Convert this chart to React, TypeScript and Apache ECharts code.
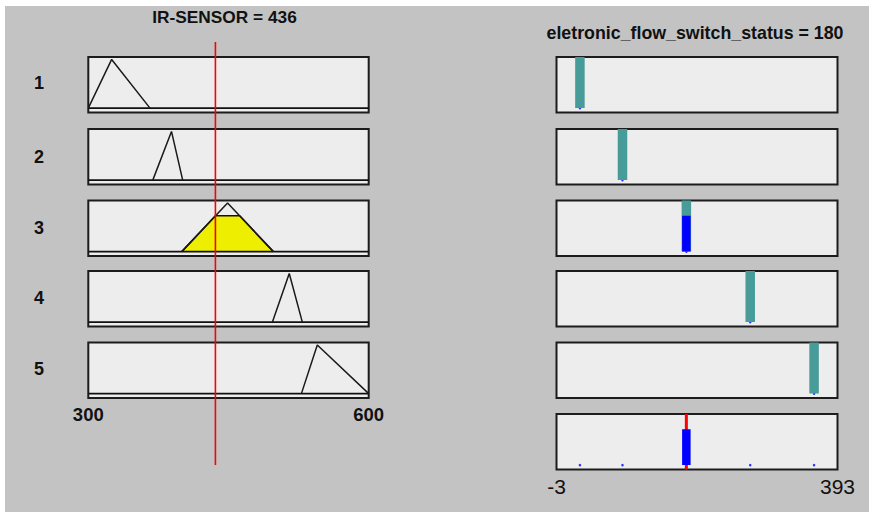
import React, { useEffect, useRef } from 'react';
import * as echarts from 'echarts';

// ---- data ----
const inputName = 'IR-SENSOR';
const inputValue = 436;
const inputRange = [300, 600];
const inputTicks = [300, 600];
// triangular membership functions [a, b, c]
const inputMFs = [
  [300, 325, 366],
  [369, 389, 401],
  [400, 449, 498],
  [497, 515, 529],
  [528, 545, 600],
];
const ruleLabels = ['1', '2', '3', '4', '5'];
const outputName = 'eletronic_flow_switch_status';
const outputRange = [-3, 393];
const outputTicks = [-3, 393];
const outputMFs = [30, 90, 180, 270, 360];
const outputValue = 180;

function trimf(x: number, m: number[]) {
  const [a, b, c] = m;
  if (x <= a || x >= c) return 0;
  if (x <= b) return (x - a) / (b - a);
  return (c - x) / (c - b);
}

const FONT = '"Liberation Sans", Arial, sans-serif';
const BG = '#c3c3c3';
const PANEL = '#ededed';
const BORDER = '#1c1c1c';
const TEAL = '#479b99';
const BLUE = '#0000ff';
const YMIN = -0.09;
const YMAX = 1.05;

export default function App() {
  const ref = useRef<HTMLDivElement>(null);
  useEffect(() => {
    if (!ref.current) return;
    const chart = echarts.init(ref.current, undefined, { renderer: 'svg' });

    const rowTops = [57, 129, 200.5, 271, 342.5];
    const panelH = 55.5;
    const leftX = 88.3, leftW = 280.4;
    const rightX = 556.5, rightW = 281;
    const bottomTop = 414;

    const firing = inputMFs.map((m) => trimf(inputValue, m));

    const grids: any[] = [];
    const xAxes: any[] = [];
    const yAxes: any[] = [];
    const series: any[] = [];

    const gridStyle = { show: true, backgroundColor: PANEL, borderColor: BORDER, borderWidth: 2 };
    const addGrid = (left: number, top: number, width: number, range: number[], ticks: number[] | null, fs: number, margin: number, weight: string) => {
      const idx = grids.length;
      grids.push({ left, top, width, height: panelH, ...gridStyle });
      xAxes.push({
        gridIndex: idx, type: 'value', min: range[0], max: range[1],
        axisLine: { show: false }, axisTick: { show: false }, splitLine: { show: false },
        axisLabel: ticks
          ? { show: true, customValues: ticks, margin, fontSize: fs, fontWeight: weight, color: '#111', fontFamily: FONT, showMinLabel: true, showMaxLabel: true }
          : { show: false },
      });
      yAxes.push({ gridIndex: idx, type: 'value', min: YMIN, max: YMAX, show: false });
      return idx;
    };

    const lineS = (idx: number, data: number[][], color: string, width: number, extra: any = {}) => ({
      type: 'line', xAxisIndex: idx, yAxisIndex: idx, data, symbol: 'none', silent: true,
      lineStyle: { color, width, cap: 'butt' }, ...extra,
    });

    // left input panels
    inputMFs.forEach((m, i) => {
      const idx = addGrid(leftX, rowTops[i], leftW, inputRange, i === inputMFs.length - 1 ? inputTicks : null, 18.5, 7, 'bold');
      series.push(lineS(idx, [[inputRange[0], 0], [inputRange[1], 0]], '#111', 1.7));
      const w = firing[i];
      if (w > 0) {
        const [a, b, c] = m;
        const xl = a + w * (b - a);
        const xr = c - w * (c - b);
        series.push(lineS(idx, [[a, 0], [xl, w], [xr, w], [c, 0]], '#111', 1.5, {
          areaStyle: { color: '#eeee00', opacity: 1 },
        }));
      }
      series.push(lineS(idx, [[m[0], 0], [m[1], 1], [m[2], 0]], '#1a1a1a', 1.5));
    });

    // right output panels
    outputMFs.forEach((v, i) => {
      const idx = addGrid(rightX, rowTops[i], rightW, outputRange, null, 20, 8, 'normal');
      series.push(lineS(idx, [[v, 0], [v, YMAX]], TEAL, 9.5));
      const w = firing[i];
      if (w > 0) series.push(lineS(idx, [[v, 0], [v, w]], BLUE, 8.5));
      series.push({
        type: 'scatter', xAxisIndex: idx, yAxisIndex: idx, data: [[v, 0]], symbol: 'circle',
        symbolSize: 2.5, itemStyle: { color: BLUE }, silent: true,
      });
    });

    // aggregate panel
    const aggIdx = addGrid(rightX, bottomTop, rightW, outputRange, outputTicks, 21, 6, 'normal');
    series.push({
      type: 'scatter', xAxisIndex: aggIdx, yAxisIndex: aggIdx,
      data: outputMFs.map((v) => [v, 0]), symbol: 'circle', symbolSize: 2.5,
      itemStyle: { color: BLUE }, silent: true,
    });
    series.push(lineS(aggIdx, [[outputValue, YMIN], [outputValue, YMAX]], '#ff0000', 3));
    const agg = Math.max(...outputMFs.map((v, i) => (v === outputValue ? firing[i] : 0)));
    series.push(lineS(aggIdx, [[outputValue, 0], [outputValue, agg]], BLUE, 8.5));

    chart.setOption({
      animation: false,
      backgroundColor: BG,
      grid: grids,
      xAxis: xAxes,
      yAxis: yAxes,
      series,
    });

    const px = chart.convertToPixel({ gridIndex: 0 }, [inputValue, 0]) as number[];

    const texts: any[] = [
      { type: 'rect', shape: { x: 0, y: 0, width: 869, height: 6 }, style: { fill: '#ffffff' }, silent: true },
      { type: 'rect', shape: { x: 0, y: 0, width: 5, height: 512 }, style: { fill: '#ffffff' }, silent: true },
      {
        type: 'text', x: 224.5, y: 16.5, silent: true,
        style: { text: `${inputName} = ${inputValue}`, font: `bold 17.3px ${FONT}`, fill: '#111', align: 'center', verticalAlign: 'middle' },
      },
      {
        type: 'text', x: 695, y: 32.5, silent: true,
        style: { text: `${outputName} = ${outputValue}`, font: `bold 17.8px ${FONT}`, fill: '#111', align: 'center', verticalAlign: 'middle' },
      },
      {
        type: 'line', z: 100, silent: true,
        shape: { x1: px[0], y1: 42, x2: px[0], y2: 465 },
        style: { stroke: '#ff0000', lineWidth: 1.6 },
      },
    ];
    const labelYs = [83.3, 156.7, 227.7, 297.7, 369];
    ruleLabels.forEach((t, i) => {
      texts.push({
        type: 'text', x: 39, y: labelYs[i], silent: true,
        style: { text: t, font: `bold 18px ${FONT}`, fill: '#111', align: 'center', verticalAlign: 'middle' },
      });
    });
    chart.setOption({ graphic: texts });

    return () => chart.dispose();
  }, []);
  return <div ref={ref} style={{ position: 'fixed', left: 0, top: 0, width: 869, height: 512 }} />;
}
